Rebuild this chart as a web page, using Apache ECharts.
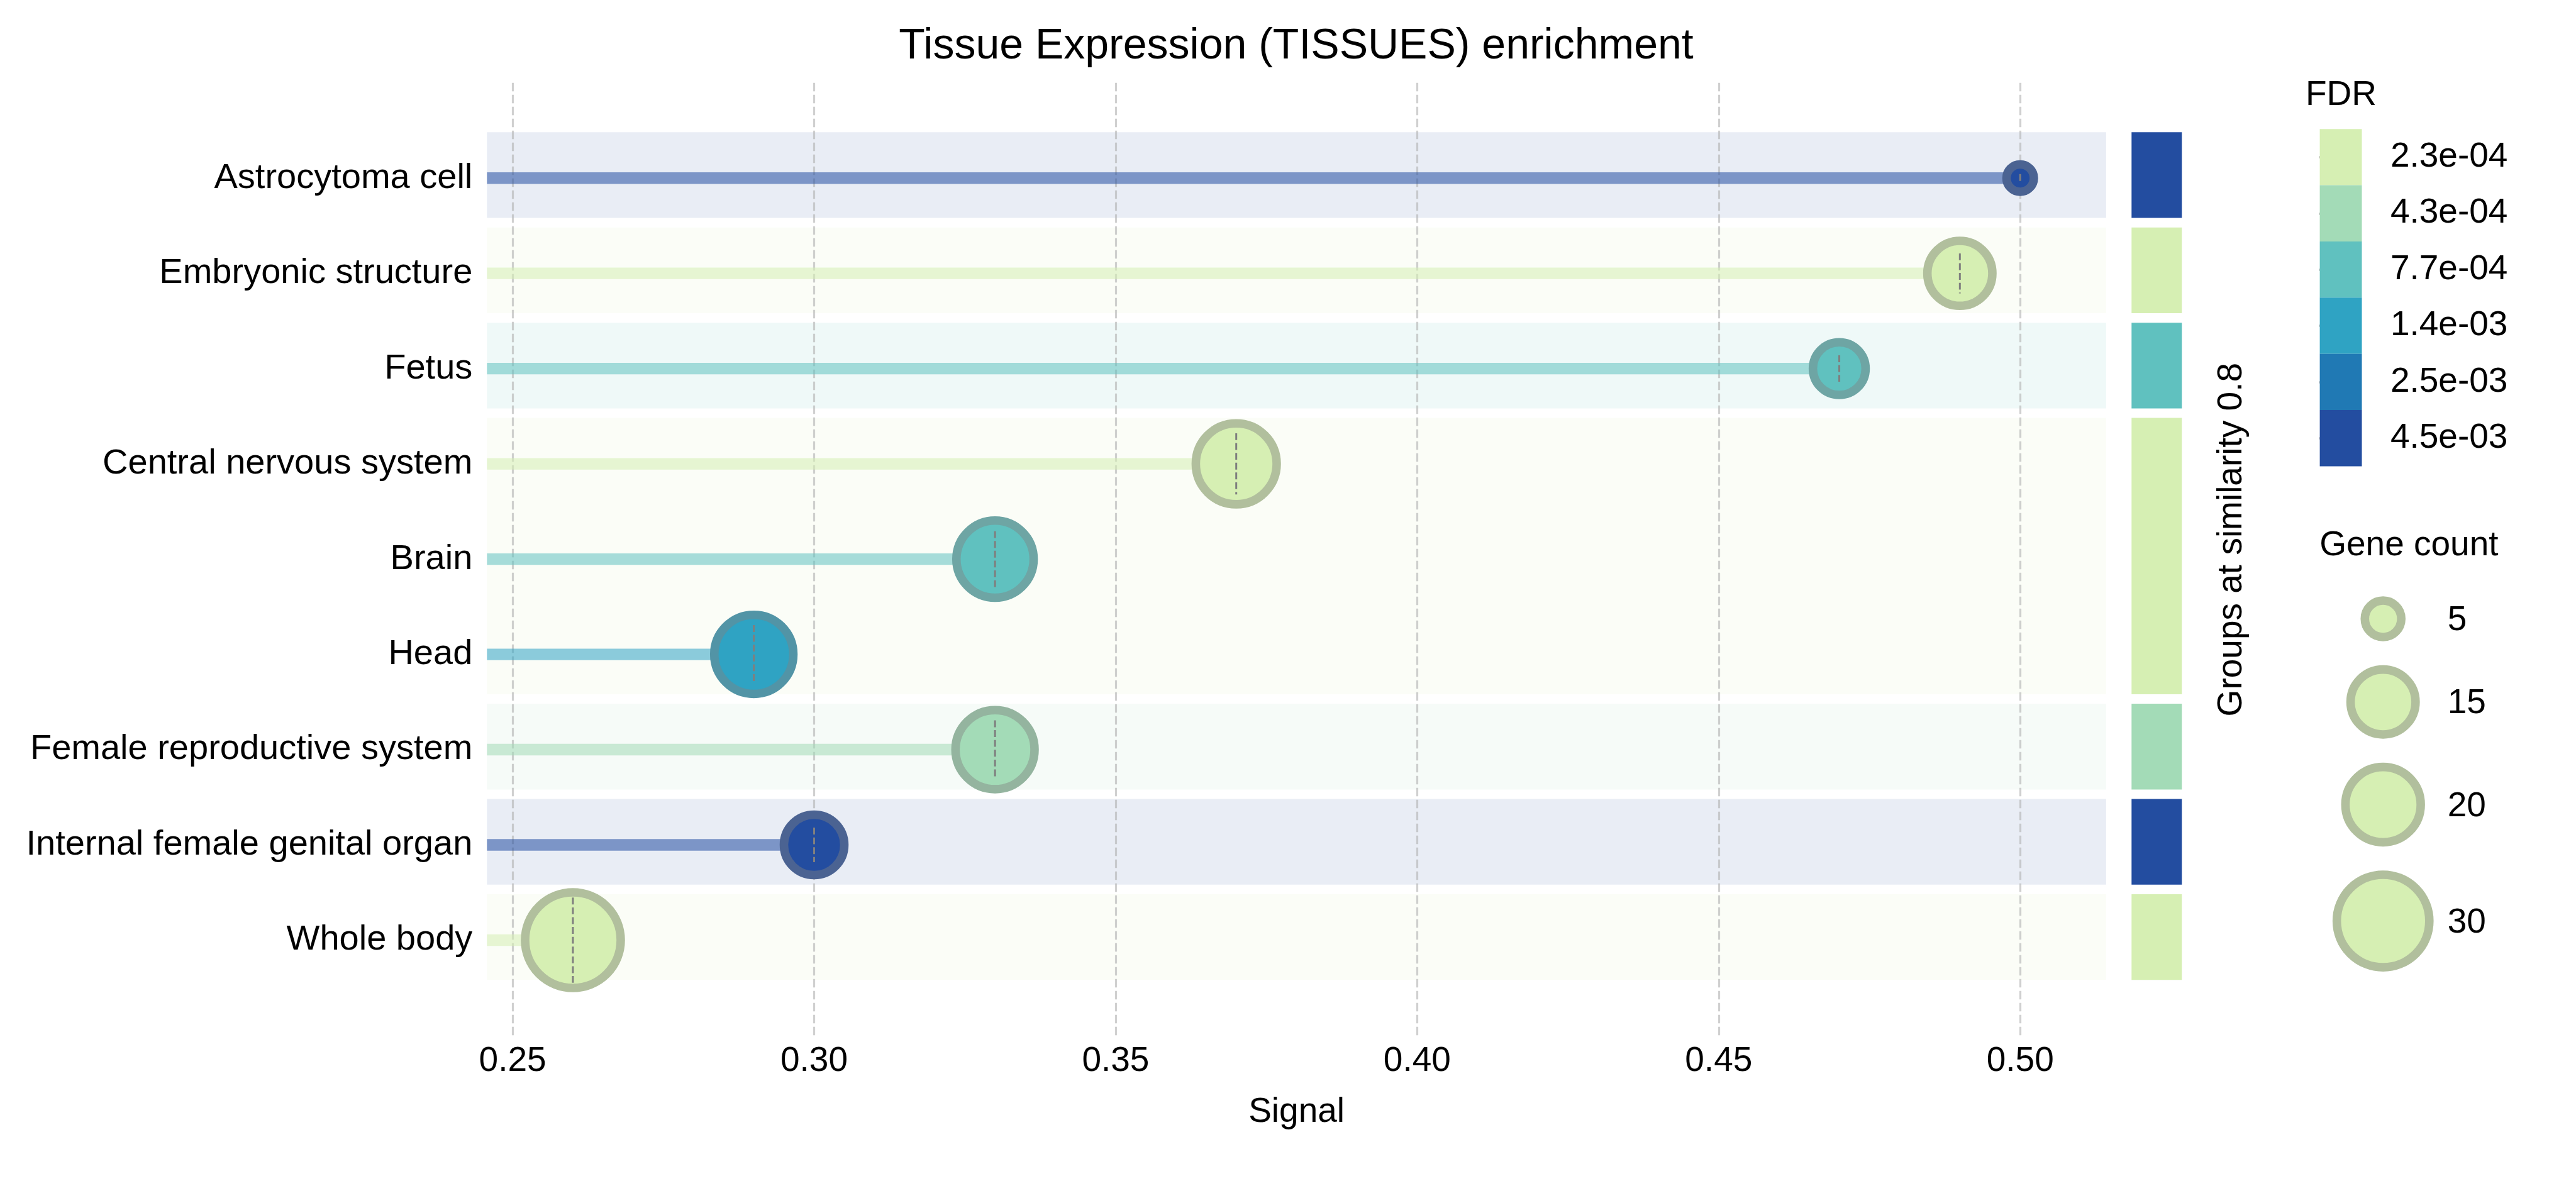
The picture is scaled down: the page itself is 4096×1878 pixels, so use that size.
<!DOCTYPE html>
<html><head><meta charset="utf-8">
<script src="https://cdn.jsdelivr.net/npm/echarts@6/dist/echarts.min.js"></script>
<style>html,body{margin:0;padding:0;background:#fff}#c{width:4096px;height:1878px}</style>
</head><body><div id="c"></div>
<script>
// ---- data ----
const categories = ['Astrocytoma cell','Embryonic structure','Fetus','Central nervous system','Brain','Head','Female reproductive system','Internal female genital organ','Whole body'];
const signal = [0.50, 0.49, 0.47, 0.37, 0.33, 0.29, 0.33, 0.30, 0.26];
const geneCount = [3, 15, 10, 23, 21, 22, 22, 13, 32];
const fdr = [4.5e-3, 2.3e-4, 7.7e-4, 2.3e-4, 7.7e-4, 1.4e-3, 4.3e-4, 4.5e-3, 2.3e-4];
const groupOf = [0, 1, 2, 3, 3, 3, 4, 5, 6];
const fdrLevels = [2.3e-4, 4.3e-4, 7.7e-4, 1.4e-3, 2.5e-3, 4.5e-3];
const fdrTickLabels = ['2.3e-04','4.3e-04','7.7e-04','1.4e-03','2.5e-03','4.5e-03'];
const fdrColors = ['#d6efb3','#a3dbb7','#60c1bf','#2fa3c3','#2079b4','#234da0'];
const legendCounts = [5, 15, 20, 30];

// ---- styling helpers ----
const S = 4096 / 5274;
const X_MIN = 0.245748, X_MAX = 0.514256;
const FONT = '"Liberation Sans", Arial, sans-serif';
const BAND_TOP = -0.482, BAND_BOT = 0.418;
const EDGE_W = 17.5 * S;
const TY = 3; // small vertical text nudge
const sizeOf = c => Math.sqrt(1213.8 * c - 504) * S;
const dashLen = c => 5.45 * c * S;
const toRgb = h => [1,3,5].map(k => parseInt(h.slice(k, k + 2), 16));
const rgba = (h, a) => { const [r,g,b] = toRgb(h); return `rgba(${r},${g},${b},${a})`; };
const mixGrey = (h, t) => `rgb(${toRgb(h).map(v => Math.round(v * (1 - t) + 128 * t)).join(',')})`;
const colorIdx = f => { let best = 0, bd = Infinity; fdrLevels.forEach((l, k) => { const d = Math.abs(Math.log(f) - Math.log(l)); if (d < bd) { bd = d; best = k; } }); return best; };
const rowColor = fdr.map(f => fdrColors[colorIdx(f)]);

const groups = [];
groupOf.forEach((g, i) => {
  if (!groups[g]) groups[g] = { start: i, end: i, fdr: fdr[i] };
  else { groups[g].end = i; groups[g].fdr = Math.min(groups[g].fdr, fdr[i]); }
});
const groupColor = groups.map(g => fdrColors[colorIdx(g.fdr)]);

const txt = { fontFamily: FONT, fontSize: 55, color: '#000' };

// legend graphics
const legendGraphics = [];
let cy = 1267 * S, prevR = null;
legendCounts.forEach(c => {
  const d = sizeOf(c), rOut = (d + EDGE_W) / 2;
  if (prevR !== null) cy += prevR + rOut + 49 * S;
  legendGraphics.push({ type: 'circle', shape: { cx: 4879 * S, cy: cy, r: d / 2 },
    style: { fill: fdrColors[0], stroke: mixGrey(fdrColors[0], 0.43), lineWidth: EDGE_W } });
  legendGraphics.push({ type: 'text', x: 5011 * S, y: cy + TY,
    style: { text: String(c), fontFamily: FONT, fontSize: 55, fill: '#000', align: 'left', verticalAlign: 'middle' } });
  prevR = rOut;
});

const groupRect = fillOf => (params, api) => {
  const p0 = api.coord([api.value(0), api.value(1) + BAND_TOP]);
  const p1 = api.coord([api.value(3), api.value(2) + BAND_BOT]);
  return { type: 'rect', shape: { x: p0[0], y: p0[1], width: p1[0] - p0[0], height: p1[1] - p0[1] },
    style: { fill: fillOf(params.dataIndex) } };
};

const option = {
  animation: false,
  title: { text: 'Tissue Expression (TISSUES) enrichment', left: 2061, top: 40, padding: 0, textAlign: 'center',
    textStyle: { fontFamily: FONT, fontSize: 68, fontWeight: 'normal', color: '#000' } },
  grid: [
    { left: 774.3, top: 131.7, width: 2574.6, height: 1514.8 },
    { left: 3389.3, top: 131.7, width: 80, height: 1514.8 },
    { left: 3688.6, top: 205.2, width: 66.9, height: 536.3 }
  ],
  xAxis: [
    { type: 'value', gridIndex: 0, min: X_MIN, max: X_MAX, splitNumber: 5, minInterval: 0.05, maxInterval: 0.05,
      name: 'Signal', nameLocation: 'middle', nameGap: 95, nameTextStyle: txt,
      axisLine: { show: false }, axisTick: { show: false },
      axisLabel: Object.assign({ showMinLabel: false, showMaxLabel: false, margin: 14, formatter: v => v.toFixed(2) }, txt),
      splitLine: { show: true, showMinLine: false, showMaxLine: false,
        lineStyle: { color: 'rgba(176,176,176,0.6)', width: 3.2, type: [13.5, 5.5] } } },
    { type: 'value', gridIndex: 1, min: 0, max: 1, show: false },
    { type: 'value', gridIndex: 2, min: 0, max: 1, show: false }
  ],
  yAxis: [
    { type: 'value', gridIndex: 0, inverse: true, min: -1, max: 9, interval: 1,
      axisLine: { show: false }, axisTick: { show: false }, splitLine: { show: false },
      axisLabel: Object.assign({}, txt, { fontSize: 56, margin: 23, padding: [8, 0, 0, 0], formatter: v => { const k = Math.round(v); return categories[k] || ''; } }) },
    { type: 'value', gridIndex: 1, inverse: true, min: -1, max: 9, show: false },
    { type: 'category', gridIndex: 2, inverse: true, data: fdrTickLabels, position: 'right',
      axisLine: { show: false }, splitLine: { show: false },
      axisTick: { show: true, alignWithLabel: true, inside: false, length: 21.7, lineStyle: { color: '#000', width: 3.5 } },
      axisLabel: Object.assign({ margin: 45.4, padding: [7, 0, 0, 0] }, txt) }
  ],
  series: [
    { type: 'custom', name: 'bands', xAxisIndex: 0, yAxisIndex: 0, z: -1, silent: true,
      data: groups.map(g => [X_MIN, g.start, g.end, X_MAX]),
      renderItem: groupRect(k => rgba(groupColor[k], 0.1)) },
    { type: 'custom', name: 'stems', xAxisIndex: 0, yAxisIndex: 0, z: 2, silent: true,
      data: signal.map((v, i) => [v, i]),
      renderItem: (params, api) => {
        const i = api.value(1);
        const a = api.coord([X_MIN, i]);
        const b = api.coord([api.value(0), i]);
        return { type: 'line', shape: { x1: a[0], y1: a[1], x2: b[0], y2: b[1] },
          style: { stroke: rgba(rowColor[params.dataIndex], 0.55), lineWidth: 23.7 * S, lineCap: 'butt' } };
      } },
    { type: 'scatter', name: 'points', xAxisIndex: 0, yAxisIndex: 0, z: 3, silent: true,
      data: signal.map((v, i) => ({ value: [v, i, geneCount[i]], symbolSize: sizeOf(geneCount[i]),
        itemStyle: { color: rowColor[i], borderColor: mixGrey(rowColor[i], 0.43), borderWidth: EDGE_W, opacity: 1 } })) },
    { type: 'custom', name: 'dashes', xAxisIndex: 0, yAxisIndex: 0, z: 4, silent: true,
      data: signal.map((v, i) => [v, i, geneCount[i]]),
      renderItem: (params, api) => {
        const c = api.coord([api.value(0), api.value(1)]);
        const L = dashLen(api.value(2));
        return { type: 'line', shape: { x1: c[0], y1: c[1] - L / 2, x2: c[0], y2: c[1] + L / 2 },
          style: { stroke: '#7f7f7f', lineWidth: 3, lineDash: [10.9, 4.7], lineCap: 'butt' } };
      } },
    { type: 'custom', name: 'groups', xAxisIndex: 1, yAxisIndex: 1, silent: true,
      data: groups.map(g => [0, g.start, g.end, 1]),
      renderItem: groupRect(k => groupColor[k]) },
    { type: 'bar', name: 'fdrbar', xAxisIndex: 2, yAxisIndex: 2, silent: true, barWidth: '100%', barCategoryGap: '0%',
      data: fdrColors.map(c => ({ value: 1, itemStyle: { color: c } })) }
  ],
  graphic: [
    { type: 'text', x: 4793 * S, y: 191 * S + TY, style: { text: 'FDR', fontFamily: FONT, fontSize: 55, fill: '#000', align: 'center', verticalAlign: 'middle' } },
    { type: 'text', x: 4932 * S, y: 1113 * S + TY, style: { text: 'Gene count', fontFamily: FONT, fontSize: 55, fill: '#000', align: 'center', verticalAlign: 'middle' } },
    { type: 'text', x: 4565 * S + TY, y: 1105 * S, rotation: Math.PI / 2, style: { text: 'Groups at similarity 0.8', fontFamily: FONT, fontSize: 55, fill: '#000', align: 'center', verticalAlign: 'middle' } }
  ].concat(legendGraphics)
};

const chart = echarts.init(document.getElementById('c'), null, { renderer: 'canvas' });
chart.setOption(option);
</script>
</body></html>
